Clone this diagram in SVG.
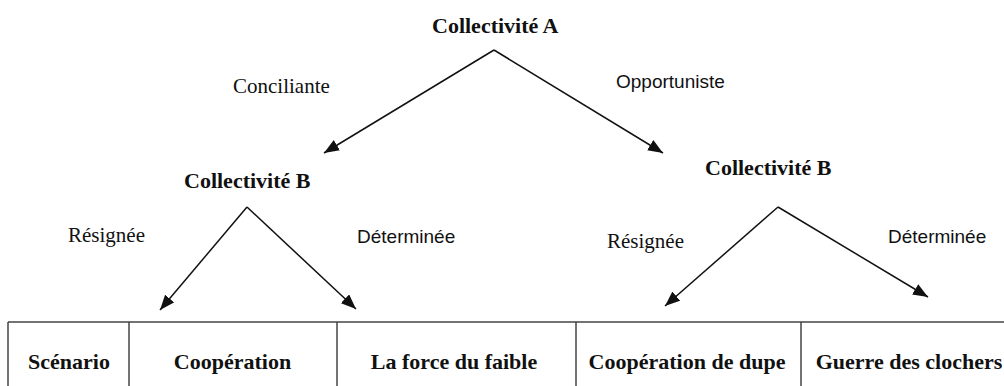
<svg xmlns="http://www.w3.org/2000/svg" width="1004" height="386" viewBox="0 0 1004 386">
<style>
.node{font-family:"Liberation Serif","Times New Roman",serif;font-weight:bold;font-size:22px;fill:#111}
.ser{font-family:"Liberation Serif","Times New Roman",serif;font-size:21px;fill:#111}
.san{font-family:"Liberation Sans",Arial,sans-serif;font-size:19px;fill:#111}
.cell{font-family:"Liberation Serif","Times New Roman",serif;font-weight:bold;font-size:22px;fill:#111;text-anchor:middle}
.conn line{stroke:#111;stroke-width:1.5;marker-end:url(#ah)}
.grid line{stroke:#444;stroke-width:1.5}
</style>
<defs>
<marker id="ah" markerUnits="userSpaceOnUse" markerWidth="16" markerHeight="12" refX="15" refY="6" orient="auto">
<path d="M0,0 L15,6 L0,12 Z" fill="#111"/>
</marker>
</defs>
<rect width="1004" height="386" fill="#fff"/>
<g id="nodeA"><text class="node" x="432" y="33">Collectivité A</text></g>
<g id="nodeB1"><text class="node" x="184" y="188">Collectivité B</text></g>
<g id="nodeB2"><text class="node" x="705" y="175">Collectivité B</text></g>
<g id="labels">
<text class="ser" x="233" y="93">Conciliante</text>
<text class="san" x="616" y="88">Opportuniste</text>
<text class="ser" x="68" y="242">Résignée</text>
<text class="san" x="357" y="243">Déterminée</text>
<text class="ser" x="607" y="248">Résignée</text>
<text class="san" x="888" y="243">Déterminée</text>
</g>
<g id="connectors" class="conn">
<line x1="494" y1="50" x2="324" y2="153"/>
<line x1="494" y1="50" x2="663" y2="153"/>
<line x1="247" y1="207" x2="160" y2="310"/>
<line x1="247" y1="207" x2="356" y2="309"/>
<line x1="778" y1="207" x2="665" y2="306"/>
<line x1="778" y1="207" x2="928" y2="297"/>
</g>
<g id="table">
<g class="grid">
<line x1="8" y1="322" x2="1004" y2="322" stroke-width="2"/>
<line x1="8" y1="322" x2="8" y2="386"/>
<line x1="129" y1="322" x2="129" y2="386"/>
<line x1="337" y1="322" x2="337" y2="386"/>
<line x1="576" y1="322" x2="576" y2="386"/>
<line x1="801" y1="322" x2="801" y2="386"/>
</g>
<text class="cell" x="69" y="369">Scénario</text>
<text class="cell" x="232.5" y="369">Coopération</text>
<text class="cell" x="454" y="369">La force du faible</text>
<text class="cell" x="687" y="369">Coopération de dupe</text>
<text class="cell" x="909" y="369">Guerre des clochers</text>
</g>
</svg>
